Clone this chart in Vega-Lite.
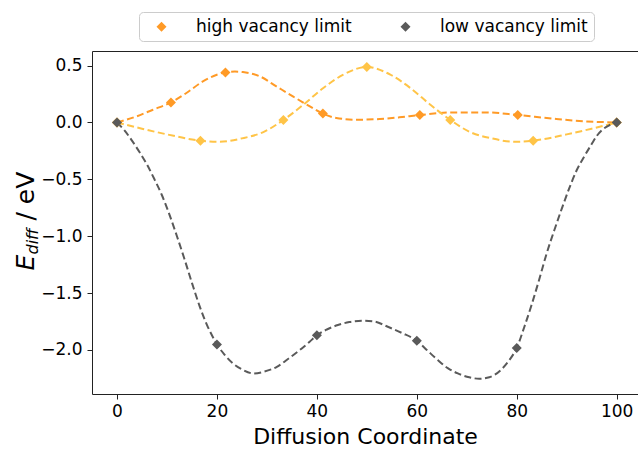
{
  "$schema": "https://vega.github.io/schema/vega-lite/v6.json",
  "width": 546,
  "height": 343,
  "autosize": {"type": "none"},
  "padding": {"left": 92, "top": 51, "right": 0, "bottom": 56},
  "config": {
    "font": "DejaVu Sans",
    "view": {"stroke": null},
    "axis": {"grid": false, "domainColor": "#222222", "tickColor": "#222222", "labelColor": "#000000", "titleColor": "#000000", "labelFont": "DejaVu Sans", "titleFont": "DejaVu Sans", "titleFontWeight": "normal"}
  },
  "datasets": {
    "points": [
      {"series": "high vacancy limit", "x": 0, "y": 0},
      {"series": "high vacancy limit", "x": 10.8, "y": 0.176},
      {"series": "high vacancy limit", "x": 21.7, "y": 0.44},
      {"series": "high vacancy limit", "x": 41.2, "y": 0.078},
      {"series": "high vacancy limit", "x": 60.6, "y": 0.065},
      {"series": "high vacancy limit", "x": 80.2, "y": 0.065},
      {"series": "high vacancy limit", "x": 100, "y": 0},
      {"series": "high vacancy limit 2", "x": 0, "y": 0},
      {"series": "high vacancy limit 2", "x": 16.7, "y": -0.16},
      {"series": "high vacancy limit 2", "x": 33.3, "y": 0.022},
      {"series": "high vacancy limit 2", "x": 50, "y": 0.488},
      {"series": "high vacancy limit 2", "x": 66.7, "y": 0.022},
      {"series": "high vacancy limit 2", "x": 83.3, "y": -0.16},
      {"series": "high vacancy limit 2", "x": 100, "y": 0},
      {"series": "low vacancy limit", "x": 0, "y": 0},
      {"series": "low vacancy limit", "x": 20, "y": -1.951},
      {"series": "low vacancy limit", "x": 40, "y": -1.871},
      {"series": "low vacancy limit", "x": 60, "y": -1.919},
      {"series": "low vacancy limit", "x": 80, "y": -1.983},
      {"series": "low vacancy limit", "x": 100, "y": 0}
    ],
    "curve": [
      {"series": "high vacancy limit", "x": 0, "y": 0},
      {"series": "high vacancy limit", "x": 3.9, "y": 0.053},
      {"series": "high vacancy limit", "x": 7.2, "y": 0.112},
      {"series": "high vacancy limit", "x": 10.8, "y": 0.176},
      {"series": "high vacancy limit", "x": 13.9, "y": 0.259},
      {"series": "high vacancy limit", "x": 17.2, "y": 0.361},
      {"series": "high vacancy limit", "x": 21.7, "y": 0.44},
      {"series": "high vacancy limit", "x": 23.6, "y": 0.447},
      {"series": "high vacancy limit", "x": 25.2, "y": 0.443},
      {"series": "high vacancy limit", "x": 28.6, "y": 0.405},
      {"series": "high vacancy limit", "x": 31.9, "y": 0.317},
      {"series": "high vacancy limit", "x": 35.2, "y": 0.229},
      {"series": "high vacancy limit", "x": 38.6, "y": 0.141},
      {"series": "high vacancy limit", "x": 41.2, "y": 0.078},
      {"series": "high vacancy limit", "x": 43.9, "y": 0.039},
      {"series": "high vacancy limit", "x": 47.9, "y": 0.024},
      {"series": "high vacancy limit", "x": 52.6, "y": 0.03},
      {"series": "high vacancy limit", "x": 56.5, "y": 0.045},
      {"series": "high vacancy limit", "x": 60.6, "y": 0.065},
      {"series": "high vacancy limit", "x": 67.3, "y": 0.088},
      {"series": "high vacancy limit", "x": 74, "y": 0.088},
      {"series": "high vacancy limit", "x": 80.2, "y": 0.065},
      {"series": "high vacancy limit", "x": 87.3, "y": 0.033},
      {"series": "high vacancy limit", "x": 94, "y": 0.009},
      {"series": "high vacancy limit", "x": 100, "y": 0},
      {"series": "high vacancy limit 2", "x": 0, "y": 0},
      {"series": "high vacancy limit 2", "x": 5, "y": -0.055},
      {"series": "high vacancy limit 2", "x": 10, "y": -0.105},
      {"series": "high vacancy limit 2", "x": 16.7, "y": -0.16},
      {"series": "high vacancy limit 2", "x": 20.5, "y": -0.17},
      {"series": "high vacancy limit 2", "x": 25, "y": -0.14},
      {"series": "high vacancy limit 2", "x": 29.3, "y": -0.085},
      {"series": "high vacancy limit 2", "x": 33.3, "y": 0.022},
      {"series": "high vacancy limit 2", "x": 37.3, "y": 0.156},
      {"series": "high vacancy limit 2", "x": 41.3, "y": 0.303},
      {"series": "high vacancy limit 2", "x": 45.3, "y": 0.42},
      {"series": "high vacancy limit 2", "x": 50, "y": 0.488},
      {"series": "high vacancy limit 2", "x": 54.7, "y": 0.42},
      {"series": "high vacancy limit 2", "x": 58.7, "y": 0.303},
      {"series": "high vacancy limit 2", "x": 62.7, "y": 0.156},
      {"series": "high vacancy limit 2", "x": 66.7, "y": 0.022},
      {"series": "high vacancy limit 2", "x": 70.7, "y": -0.085},
      {"series": "high vacancy limit 2", "x": 75, "y": -0.14},
      {"series": "high vacancy limit 2", "x": 79.5, "y": -0.17},
      {"series": "high vacancy limit 2", "x": 83.3, "y": -0.16},
      {"series": "high vacancy limit 2", "x": 90, "y": -0.105},
      {"series": "high vacancy limit 2", "x": 95, "y": -0.055},
      {"series": "high vacancy limit 2", "x": 100, "y": 0},
      {"series": "low vacancy limit", "x": 0, "y": 0},
      {"series": "low vacancy limit", "x": 1.5, "y": -0.07},
      {"series": "low vacancy limit", "x": 3, "y": -0.16},
      {"series": "low vacancy limit", "x": 4.5, "y": -0.26},
      {"series": "low vacancy limit", "x": 6, "y": -0.37},
      {"series": "low vacancy limit", "x": 7.5, "y": -0.5},
      {"series": "low vacancy limit", "x": 9, "y": -0.64},
      {"series": "low vacancy limit", "x": 10.5, "y": -0.81},
      {"series": "low vacancy limit", "x": 12, "y": -1.0},
      {"series": "low vacancy limit", "x": 13.5, "y": -1.2},
      {"series": "low vacancy limit", "x": 15, "y": -1.41},
      {"series": "low vacancy limit", "x": 16.5, "y": -1.61},
      {"series": "low vacancy limit", "x": 18, "y": -1.78},
      {"series": "low vacancy limit", "x": 19, "y": -1.87},
      {"series": "low vacancy limit", "x": 20, "y": -1.951},
      {"series": "low vacancy limit", "x": 21.5, "y": -2.04},
      {"series": "low vacancy limit", "x": 23.2, "y": -2.118},
      {"series": "low vacancy limit", "x": 25, "y": -2.17},
      {"series": "low vacancy limit", "x": 27.3, "y": -2.206},
      {"series": "low vacancy limit", "x": 29.5, "y": -2.19},
      {"series": "low vacancy limit", "x": 32, "y": -2.148},
      {"series": "low vacancy limit", "x": 34.5, "y": -2.07},
      {"series": "low vacancy limit", "x": 36.6, "y": -2.0},
      {"series": "low vacancy limit", "x": 38.5, "y": -1.93},
      {"series": "low vacancy limit", "x": 40, "y": -1.871},
      {"series": "low vacancy limit", "x": 42, "y": -1.82},
      {"series": "low vacancy limit", "x": 44.2, "y": -1.781},
      {"series": "low vacancy limit", "x": 46.5, "y": -1.755},
      {"series": "low vacancy limit", "x": 49.2, "y": -1.743},
      {"series": "low vacancy limit", "x": 51.5, "y": -1.75},
      {"series": "low vacancy limit", "x": 54.2, "y": -1.796},
      {"series": "low vacancy limit", "x": 57, "y": -1.85},
      {"series": "low vacancy limit", "x": 60, "y": -1.919},
      {"series": "low vacancy limit", "x": 62, "y": -2.0},
      {"series": "low vacancy limit", "x": 64.2, "y": -2.089},
      {"series": "low vacancy limit", "x": 66.2, "y": -2.16},
      {"series": "low vacancy limit", "x": 68.2, "y": -2.206},
      {"series": "low vacancy limit", "x": 70.5, "y": -2.24},
      {"series": "low vacancy limit", "x": 72.5, "y": -2.253},
      {"series": "low vacancy limit", "x": 74.5, "y": -2.24},
      {"series": "low vacancy limit", "x": 76.8, "y": -2.177},
      {"series": "low vacancy limit", "x": 78.5, "y": -2.09},
      {"series": "low vacancy limit", "x": 80, "y": -1.983},
      {"series": "low vacancy limit", "x": 81.5, "y": -1.8},
      {"series": "low vacancy limit", "x": 83, "y": -1.6},
      {"series": "low vacancy limit", "x": 84.5, "y": -1.38},
      {"series": "low vacancy limit", "x": 86, "y": -1.15},
      {"series": "low vacancy limit", "x": 87.5, "y": -0.95},
      {"series": "low vacancy limit", "x": 89, "y": -0.76},
      {"series": "low vacancy limit", "x": 90.5, "y": -0.58},
      {"series": "low vacancy limit", "x": 92, "y": -0.42},
      {"series": "low vacancy limit", "x": 93.5, "y": -0.3},
      {"series": "low vacancy limit", "x": 95, "y": -0.19},
      {"series": "low vacancy limit", "x": 96, "y": -0.12},
      {"series": "low vacancy limit", "x": 97, "y": -0.07},
      {"series": "low vacancy limit", "x": 98.5, "y": -0.025},
      {"series": "low vacancy limit", "x": 100, "y": 0}
    ]
  },
  "resolve": {"axis": {"x": "independent", "y": "independent"}, "legend": {"color": "independent"}},
  "layer": [
    {
      "data": {"name": "curve"},
      "mark": {"type": "line", "strokeDash": [7, 3.5], "strokeWidth": 2, "interpolate": "monotone"},
      "encoding": {
        "x": {"field": "x", "type": "quantitative", "scale": {"domain": [-5, 104.27], "nice": false, "zero": false},
          "axis": {"orient": "bottom", "values": [0, 20, 40, 60, 80, 100], "format": "d", "tickSize": 5, "labelFontSize": 17, "labelPadding": 4, "title": "Diffusion Coordinate", "titleFontSize": 22, "titlePadding": 7}},
        "y": {"field": "y", "type": "quantitative", "scale": {"domain": [-2.387, 0.628], "nice": false, "zero": false},
          "axis": {"orient": "left", "values": [-2, -1.5, -1, -0.5, 0, 0.5], "format": ".1f", "tickSize": 5, "labelFontSize": 17, "labelPadding": 5,
            "title": "/ eV", "titleFontSize": 25, "titleAngle": -90, "titleAlign": "left", "titleBaseline": "alphabetic", "titleX": -59, "titleY": 169}},
        "color": {"field": "series", "type": "nominal",
          "scale": {"domain": ["high vacancy limit", "low vacancy limit", "high vacancy limit 2"], "range": ["#ff9a26", "#5a5a5a", "#ffc447"]},
          "legend": null}
      }
    },
    {
      "data": {"name": "points"},
      "transform": [{"filter": "datum.series != 'low vacancy limit'"}],
      "mark": {"type": "point", "shape": "diamond", "filled": true, "size": 100, "opacity": 1},
      "encoding": {
        "x": {"field": "x", "type": "quantitative",
          "axis": {"orient": "top", "labels": false, "ticks": false, "title": null, "domain": true}},
        "y": {"field": "y", "type": "quantitative",
          "axis": {"orient": "left", "labels": false, "ticks": false, "domain": false,
            "title": "E", "titleFontSize": 25, "titleFontStyle": "italic", "titleAngle": -90, "titleAlign": "left", "titleBaseline": "alphabetic", "titleX": -59, "titleY": 219}},
        "color": {"field": "series", "type": "nominal",
          "scale": {"domain": ["high vacancy limit", "low vacancy limit", "high vacancy limit 2"], "range": ["#ff9a26", "#5a5a5a", "#ffc447"]},
          "legend": {"orient": "none", "legendX": 47, "legendY": -39, "direction": "horizontal", "values": ["high vacancy limit", "low vacancy limit"],
            "title": null, "symbolType": "diamond", "symbolSize": 100, "symbolStrokeWidth": 0, "labelFontSize": 17, "labelFont": "DejaVu Sans", "labelColor": "#000000",
            "labelOffset": 26, "symbolOffset": 8, "columnPadding": 37, "padding": 6, "strokeColor": "#cccccc", "fillColor": "#ffffff", "cornerRadius": 4, "labelLimit": 300}}
      }
    },
    {
      "data": {"name": "points"},
      "transform": [{"filter": "datum.series == 'low vacancy limit'"}],
      "mark": {"type": "point", "shape": "diamond", "filled": true, "size": 100, "opacity": 1, "color": "#5a5a5a"},
      "encoding": {
        "x": {"field": "x", "type": "quantitative", "axis": null},
        "y": {"field": "y", "type": "quantitative",
          "axis": {"orient": "left", "labels": false, "ticks": false, "domain": false,
            "title": "diff", "titleFontSize": 16, "titleFontStyle": "italic", "titleAngle": -90, "titleAlign": "left", "titleBaseline": "alphabetic", "titleX": -55, "titleY": 203}}
      }
    }
  ]
}
